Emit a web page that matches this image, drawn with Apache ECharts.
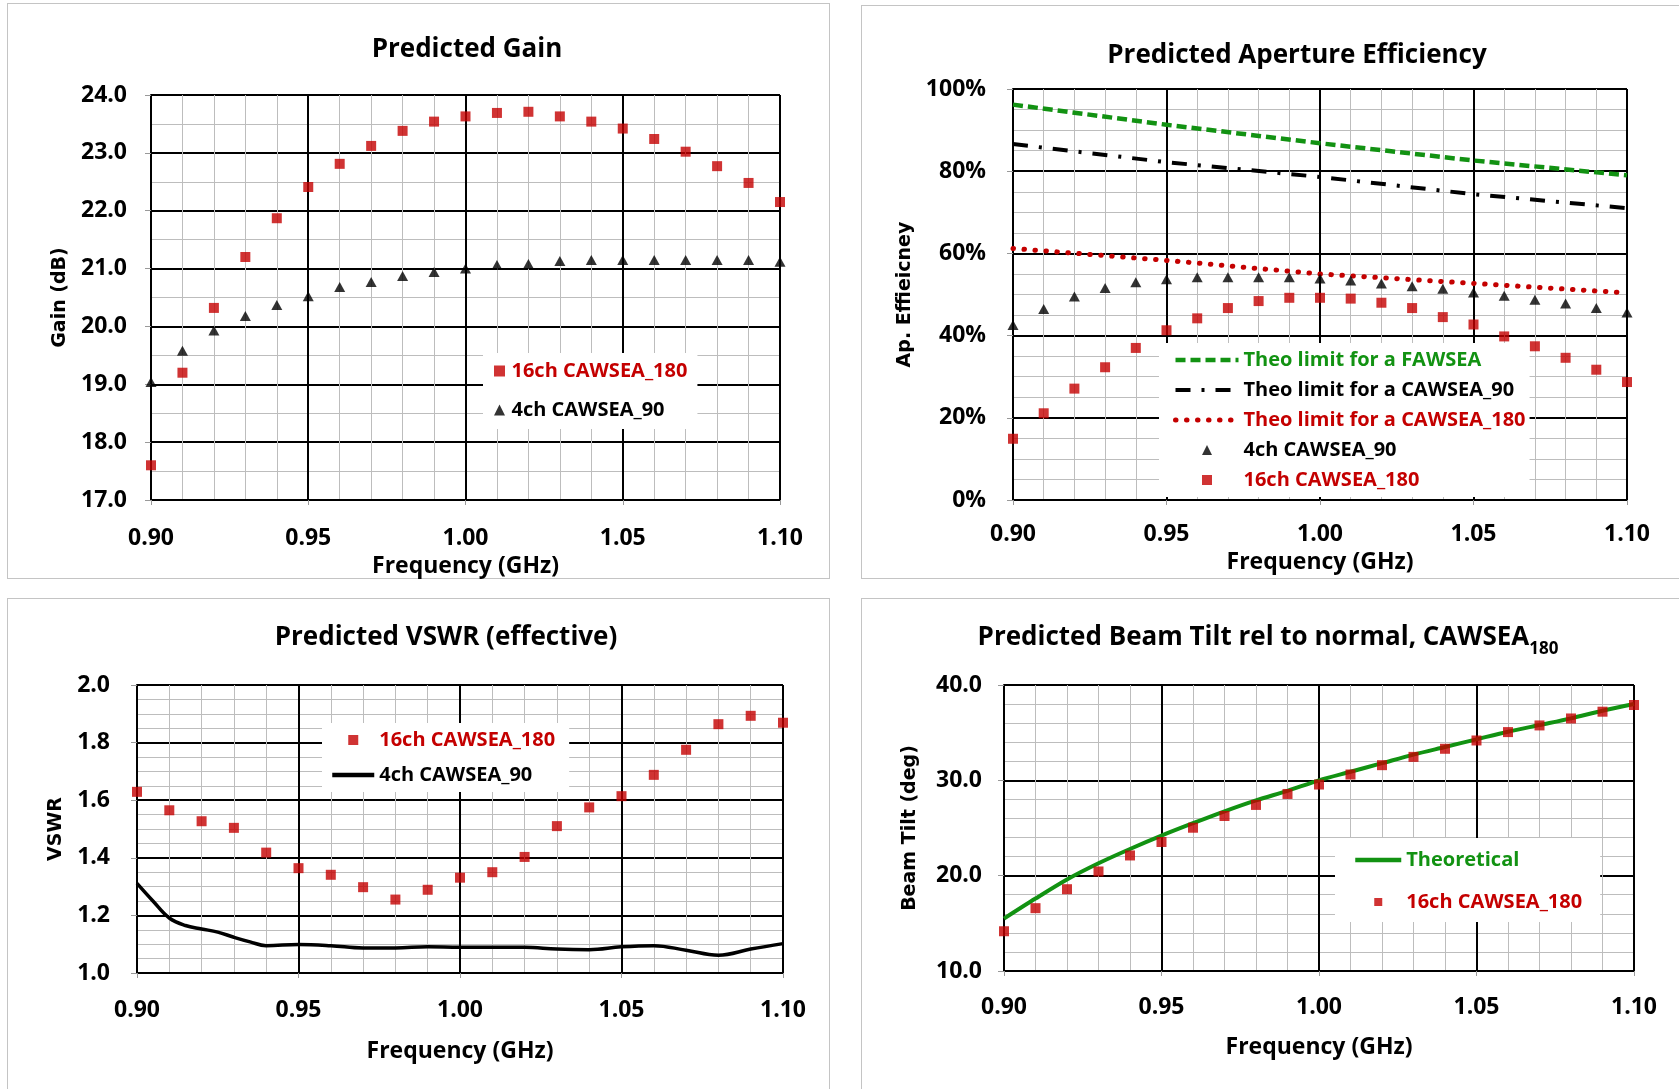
<!DOCTYPE html>
<html><head><meta charset="utf-8">
<script src="https://cdn.jsdelivr.net/npm/echarts@6/dist/echarts.min.js"></script>
<style>
html,body{margin:0;padding:0;background:#fff}
body{width:1679px;height:1089px;overflow:hidden;position:relative}
.frame{position:absolute;border:1px solid #c4c4c4;box-sizing:border-box}
.q{position:absolute}
</style></head><body>
<div class="frame" style="left:7px;top:3px;width:823px;height:576px"></div>
<div class="frame" style="left:861px;top:5px;width:830px;height:574px"></div>
<div class="frame" style="left:7px;top:598px;width:823px;height:500px"></div>
<div class="frame" style="left:861px;top:598px;width:830px;height:500px"></div>
<div id="c1" class="q" style="left:0;top:0;width:840px;height:590px"></div>
<div id="c2" class="q" style="left:840px;top:0;width:839px;height:590px"></div>
<div id="c3" class="q" style="left:0;top:590px;width:840px;height:499px"></div>
<div id="c4" class="q" style="left:840px;top:590px;width:839px;height:499px"></div>
<script>
// ---------- data ----------
const freq = [0.90,0.91,0.92,0.93,0.94,0.95,0.96,0.97,0.98,0.99,1.00,1.01,1.02,1.03,1.04,1.05,1.06,1.07,1.08,1.09,1.10];
const xTicks = [0.90,0.95,1.00,1.05,1.10];

const gain16 = [17.60,19.20,20.32,21.20,21.87,22.41,22.81,23.12,23.38,23.54,23.63,23.69,23.71,23.63,23.54,23.42,23.24,23.02,22.77,22.48,22.15];
const gain4  = [19.04,19.58,19.93,20.18,20.37,20.52,20.68,20.77,20.87,20.94,21.00,21.06,21.08,21.13,21.15,21.15,21.15,21.15,21.15,21.15,21.12];

const ae4  = [42.6,46.5,49.5,51.6,53.0,53.7,54.2,54.2,54.2,54.2,53.9,53.4,52.7,52.0,51.4,50.5,49.7,48.7,47.8,46.7,45.6];
const ae16 = [14.9,21.1,27.1,32.3,37.0,41.3,44.2,46.7,48.4,49.2,49.2,49.0,48.0,46.7,44.5,42.7,39.8,37.4,34.6,31.7,28.7];
const theoFreq = [0.90,0.95,1.00,1.05,1.10];
const theoFaw  = [96.2,91.3,86.8,82.6,79.0];
const theoC90  = [86.6,82.2,78.6,74.4,71.0];
const theoC180 = [61.2,58.3,55.0,52.7,50.4];

const vswr16 = [1.629,1.565,1.527,1.504,1.418,1.364,1.341,1.298,1.255,1.289,1.331,1.350,1.403,1.510,1.575,1.614,1.688,1.775,1.864,1.893,1.869];
const vswr4Freq = [0.900,0.905,0.910,0.915,0.920,0.925,0.930,0.935,0.940,0.950,0.960,0.970,0.980,0.990,1.000,1.010,1.020,1.030,1.040,1.050,1.060,1.070,1.080,1.090,1.100];
const vswr4 = [1.311,1.249,1.191,1.165,1.153,1.142,1.124,1.108,1.095,1.099,1.095,1.087,1.087,1.091,1.089,1.089,1.089,1.083,1.081,1.091,1.095,1.079,1.062,1.083,1.102];

const tilt16   = [14.17,16.59,18.58,20.44,22.12,23.53,25.03,26.26,27.42,28.57,29.56,30.61,31.59,32.46,33.31,34.18,35.06,35.76,36.49,37.20,37.90];
const tiltTheo = [15.5,17.6,19.6,21.3,22.8,24.2,25.5,26.75,27.9,28.9,30.0,30.9,31.8,32.7,33.5,34.3,35.1,35.8,36.5,37.3,38.0];

const names = {
  s16: '16ch CAWSEA_180', s4: '4ch CAWSEA_90',
  faw: 'Theo limit for a FAWSEA', c90: 'Theo limit for a CAWSEA_90', c180: 'Theo limit for a CAWSEA_180',
  theo: 'Theoretical'
};

// ---------- styles ----------
const RED = '#c40000', GREEN = '#129212', FONT = 'Open Sans';
const SQ = 'path://M0,0h10v10h-10z';
const TRI = 'path://M5,0L10,10L0,10z';
const NOSYM = {opacity: 0};
const LS_FAW  = {color: GREEN, width: 4.5, type: [10, 5]};
const LS_C90  = {color: '#000', width: 4, type: [15, 11, 3, 11]};
const LS_C180 = {color: RED, width: 5, type: [0.5, 10.5], cap: 'round'};
const LS_V4   = {color: '#000', width: 3.5};
const LS_TH   = {color: GREEN, width: 4};
const pair = (xs, ys) => xs.map((x, i) => [x, ys[i]]);

function xAxis(nameGap, margin) {
  return {
    type: 'value', min: 0.9, max: 1.1, interval: 0.05,
    name: 'Frequency (GHz)', nameLocation: 'middle', nameGap: nameGap,
    nameTextStyle: {fontFamily: FONT, fontWeight: 'bold', fontSize: 23, color: '#000'},
    axisLine: {show: true, onZero: false, lineStyle: {color: '#000', width: 2}},
    axisTick: {show: true, length: 5, lineStyle: {color: '#999', width: 1}},
    axisLabel: {margin: margin, fontFamily: FONT, fontWeight: 'bold', fontSize: 23, color: '#000',
      formatter: v => v.toFixed(2)},
    splitLine: {show: true, lineStyle: {color: '#000', width: 2}},
    minorTick: {show: false, splitNumber: 5},
    minorSplitLine: {show: true, lineStyle: {color: '#bdbdbd', width: 1}}
  };
}
function yAxis(name, nameGap, margin, min, max, interval, minorN, fmt) {
  return {
    type: 'value', min: min, max: max, interval: interval,
    name: name, nameLocation: 'middle', nameGap: nameGap, nameRotate: 90,
    nameTextStyle: {fontFamily: 'DejaVu Sans', fontWeight: 'bold', fontSize: 19, color: '#000'},
    axisLine: {show: true, onZero: false, lineStyle: {color: '#000', width: 2}},
    axisTick: {show: true, length: 6, lineStyle: {color: '#999', width: 1}},
    axisLabel: {margin: margin, fontFamily: FONT, fontWeight: 'bold', fontSize: 23, color: '#000', formatter: fmt},
    splitLine: {show: true, lineStyle: {color: '#000', width: 2}},
    minorTick: {show: false, splitNumber: minorN},
    minorSplitLine: {show: true, lineStyle: {color: '#bdbdbd', width: 1}}
  };
}
function title(x, y, text, rich) {
  const st = {text: text, x: 0, y: 0, fill: '#000', align: 'center', verticalAlign: 'middle',
    font: 'bold 26px "Open Sans"'};
  if (rich) st.rich = rich;
  return {type: 'text', x: x, y: y, z: 100, style: st};
}
const legendText = {fontFamily: FONT, fontWeight: 'bold', fontSize: 20, lineHeight: 24};

// ---------- chart 1 : gain ----------
echarts.init(document.getElementById('c1')).setOption({
  animation: false,
  graphic: [title(467, 50, 'Predicted Gain')],
  grid: {left: 151, top: 95, width: 629, height: 405},
  xAxis: xAxis(44, 27),
  yAxis: yAxis('Gain (dB)', 81, 24, 17, 24, 1, 2, v => v.toFixed(1)),
  legend: {orient: 'vertical', left: 483, top: 353, padding: [6, 10, 7, 11], backgroundColor: '#fff',
    itemWidth: 14, itemHeight: 11, itemGap: 15, selectedMode: false, symbolKeepAspect: true,
    textStyle: legendText,
    data: [{name: names.s16, icon: SQ, textStyle: {color: RED}},
           {name: names.s4, icon: TRI, textStyle: {color: '#000'}}]},
  series: [
    {name: names.s16, type: 'scatter', z: 6, symbol: 'rect', symbolSize: 10, itemStyle: {color: RED},
     data: pair(freq, gain16)},
    {name: names.s4, type: 'scatter', z: 6, symbol: 'triangle', symbolSize: [11, 10], itemStyle: {color: '#000'},
     data: pair(freq, gain4)}
  ]
});

// ---------- chart 2 : aperture efficiency ----------
echarts.init(document.getElementById('c2')).setOption({
  animation: false,
  graphic: [title(457, 56, 'Predicted Aperture Efficiency')],
  grid: {left: 173, top: 89, width: 614, height: 411},
  xAxis: xAxis(50, 23),
  yAxis: yAxis('Ap. Effieicney', 96, 27, 0, 100, 20, 4, v => v + '%'),
  legend: {orient: 'vertical', left: 319, top: 343, padding: [5, 4, 5, 14], backgroundColor: '#fff',
    itemWidth: 63, itemHeight: 10, itemGap: 6, selectedMode: false, symbolKeepAspect: true,
    textStyle: legendText,
    data: [{name: names.faw, itemStyle: NOSYM, lineStyle: LS_FAW, textStyle: {color: GREEN}},
           {name: names.c90, itemStyle: NOSYM, lineStyle: LS_C90, textStyle: {color: '#000'}},
           {name: names.c180, itemStyle: NOSYM, lineStyle: LS_C180, textStyle: {color: RED}},
           {name: names.s4, icon: TRI, textStyle: {color: '#000'}},
           {name: names.s16, icon: SQ, textStyle: {color: RED}}]},
  series: [
    {name: names.s4, type: 'scatter', z: 6, symbol: 'triangle', symbolSize: [11, 10], itemStyle: {color: '#000'},
     data: pair(freq, ae4)},
    {name: names.s16, type: 'scatter', z: 6, symbol: 'rect', symbolSize: 10, itemStyle: {color: RED},
     data: pair(freq, ae16)},
    {name: names.faw, type: 'line', symbol: 'none', itemStyle: {color: GREEN},
     lineStyle: LS_FAW, data: pair(theoFreq, theoFaw)},
    {name: names.c90, type: 'line', symbol: 'none', itemStyle: {color: '#000'},
     lineStyle: LS_C90, data: pair(theoFreq, theoC90)},
    {name: names.c180, type: 'line', symbol: 'none', itemStyle: {color: RED},
     lineStyle: LS_C180, data: pair(theoFreq, theoC180)}
  ]
});

// ---------- chart 3 : VSWR ----------
echarts.init(document.getElementById('c3')).setOption({
  animation: false,
  graphic: [title(446, 48, 'Predicted VSWR (effective)')],
  grid: {left: 137, top: 95, width: 646, height: 288},
  xAxis: xAxis(67, 26),
  yAxis: yAxis('VSWR', 71, 27, 1, 2, 0.2, 4, v => v.toFixed(1)),
  legend: {orient: 'vertical', left: 322, top: 133, padding: [5, 14, 5, 8], backgroundColor: '#fff',
    itemWidth: 42, itemHeight: 10, itemGap: 11, selectedMode: false, symbolKeepAspect: true,
    textStyle: legendText,
    data: [{name: names.s16, icon: SQ, textStyle: {color: RED}},
           {name: names.s4, itemStyle: NOSYM, lineStyle: {color: '#000', width: 4.5}, textStyle: {color: '#000'}}]},
  series: [
    {name: names.s4, type: 'line', symbol: 'none', smooth: 0.4, itemStyle: {color: '#000'},
     lineStyle: LS_V4, data: pair(vswr4Freq, vswr4)},
    {name: names.s16, type: 'scatter', z: 6, symbol: 'rect', symbolSize: 10, itemStyle: {color: RED},
     data: pair(freq, vswr16)}
  ]
});

// ---------- chart 4 : beam tilt ----------
echarts.init(document.getElementById('c4')).setOption({
  animation: false,
  graphic: [title(428, 52, '{a|Predicted Beam Tilt rel to normal, CAWSEA}{b|180}', {
    a: {fontFamily: FONT, fontWeight: 'bold', fontSize: 26, lineHeight: 34, verticalAlign: 'top'},
    b: {fontFamily: FONT, fontWeight: 'bold', fontSize: 17, lineHeight: 22, padding: [16, 0, 0, 0], verticalAlign: 'top'}
  })],
  grid: {left: 164, top: 95, width: 630, height: 286},
  xAxis: xAxis(65, 25),
  yAxis: yAxis('Beam Tilt (deg)', 84, 22, 10, 40, 10, 5, v => v.toFixed(1)),
  legend: {orient: 'vertical', left: 495, top: 248, padding: [10, 18, 8, 18], backgroundColor: '#fff',
    itemWidth: 46, itemHeight: 8, itemGap: 18, selectedMode: false, symbolKeepAspect: true,
    textStyle: legendText,
    data: [{name: names.theo, itemStyle: NOSYM, lineStyle: {color: GREEN, width: 4.5}, textStyle: {color: GREEN}},
           {name: names.s16, icon: SQ, textStyle: {color: RED}}]},
  series: [
    {name: names.theo, type: 'line', symbol: 'none', smooth: 0.3, itemStyle: {color: GREEN},
     lineStyle: LS_TH, data: pair(freq, tiltTheo)},
    {name: names.s16, type: 'scatter', z: 6, symbol: 'rect', symbolSize: 10, itemStyle: {color: RED},
     data: pair(freq, tilt16)}
  ]
});
</script>
</body></html>
